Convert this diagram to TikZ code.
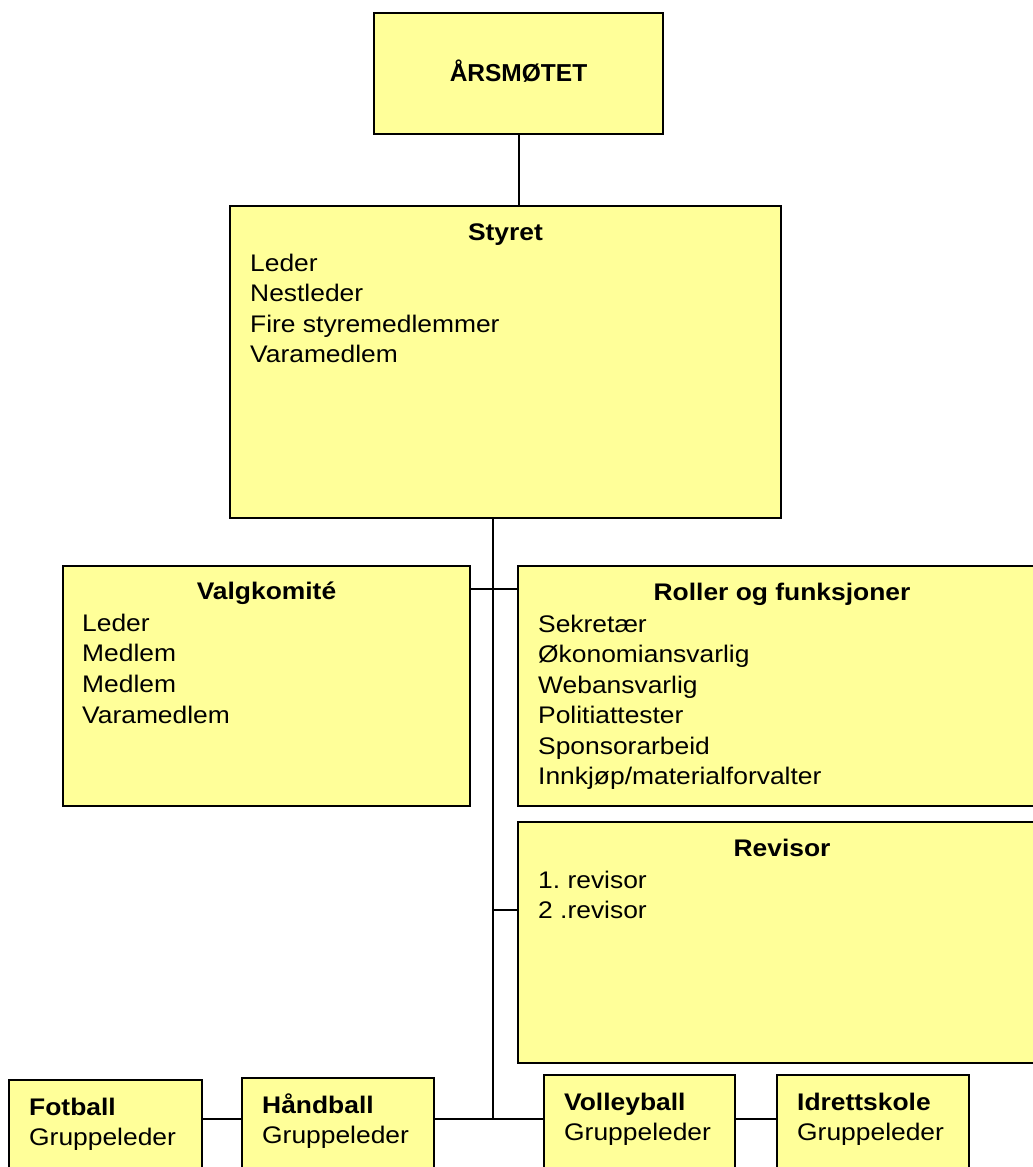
\documentclass[tikz,border=0pt]{standalone}
\usepackage{fontspec}
\setmainfont{Liberation Sans}[FakeStretch=1.1]
\newfontfamily\hovedfont{Liberation Sans}
\usetikzlibrary{positioning}
\definecolor{gul}{HTML}{FFFF99}
\tikzset{
  boks/.style={draw, line width=2pt, fill=gul, anchor=north west, inner sep=0pt, minimum width=#1},
  boks/.default=190pt,
  tittel/.style={font=\fontsize{24}{30}\selectfont\bfseries\frenchspacing, anchor=base, inner sep=0pt},
  punkt/.style={font=\fontsize{24}{30}\selectfont\frenchspacing, anchor=base west, inner sep=0pt},
  linje/.style={line width=2pt},
}

\begin{document}
\begin{tikzpicture}[x=1pt, y=-1pt]
  \useasboundingbox (0,0) rectangle (1033,1167);
  \clip (0,0) rectangle (1033,1167);

  % Årsmøtet og styret
  \node[boks=289pt, minimum height=121pt] (aars) at (373,12) {};
  \node[tittel, font=\hovedfont\fontsize{24.5}{30}\selectfont\bfseries] (aars-t) at ([yshift=-69pt]aars.north) {ÅRSMØTET};
  \node[boks=551pt, minimum height=312pt] (styret) at (229,205) {};
  \node[tittel] (styret-t) at ([yshift=-35pt]styret.north) {Styret};
  \foreach \t [count=\i] in {Leder,Nestleder,Fire styremedlemmer,Varamedlem}
    \node[punkt] (styret-\i) at ([xshift=21pt, yshift={-66pt-(\i-1)*30.5pt}]styret.north west) {\t};

  % Valgkomité, roller og revisor
  \node[boks=407pt, minimum height=240pt] (valg) at (62,565) {};
  \node[tittel] (valg-t) at ([yshift=-34pt]valg.north) {Valgkomité};
  \foreach \t [count=\i] in {Leder,Medlem,Medlem,Varamedlem}
    \node[punkt] (valg-\i) at ([xshift=20pt, yshift={-66pt-(\i-1)*30.8pt}]valg.north west) {\t};

  \node[boks=528pt, minimum height=240pt] (roller) at (517,565) {};
  \node[tittel] (roller-t) at ([yshift=-35pt]roller.north) {Roller og funksjoner};
  \foreach \t [count=\i] in {Sekretær,Økonomiansvarlig,Webansvarlig,Politiattester,Sponsorarbeid,Innkjøp/materialforvalter}
    \node[punkt] (roller-\i) at ([xshift=21pt, yshift={-67pt-(\i-1)*30.5pt}]roller.north west) {\t};

  \node[boks=528pt, minimum height=241pt] (revisor) at (517,821) {};
  \node[tittel] (revisor-t) at ([yshift=-35pt]revisor.north) {Revisor};
  \foreach \t [count=\i] in {1. revisor,2 .revisor}
    \node[punkt] (revisor-\i) at ([xshift=21pt, yshift={-67pt-(\i-1)*30.5pt}]revisor.north west) {\t};

  % Gruppene
  \node[boks=193pt, minimum height=130pt] (fotball) at (8,1079) {};
  \node[boks=192pt, minimum height=130pt] (haand) at (241,1077) {};
  \node[boks=191pt, minimum height=130pt] (volley) at (543,1074) {};
  \node[boks=192pt, minimum height=130pt] (idrett) at (776,1074) {};
  \foreach \g/\n in {fotball/Fotball,haand/Håndball,volley/Volleyball,idrett/Idrettskole} {
    \node[tittel, anchor=base west] (\g-t) at ([xshift=21pt, yshift=-36pt]\g.north west) {\n};
    \node[punkt] (\g-1) at ([xshift=21pt, yshift=-66pt]\g.north west) {Gruppeleder};
  }

  % Linjer
  \coordinate (stamme) at (493,517);
  \coordinate (rad) at (493,1119);
  \draw[linje] (aars.south) -- (aars.south |- styret.north);
  \draw[linje] (stamme) -- (rad);
  \draw[linje] ([yshift=-24pt]valg.north east) -- ([yshift=-24pt]roller.north west);
  \draw[linje] (stamme |- 0,910) -- (revisor.west |- 0,910);
  \draw[linje] (fotball.east |- rad) -- (haand.west |- rad);
  \draw[linje] (haand.east |- rad) -- (volley.west |- rad);
  \draw[linje] (volley.east |- rad) -- (idrett.west |- rad);
\end{tikzpicture}
\end{document}
